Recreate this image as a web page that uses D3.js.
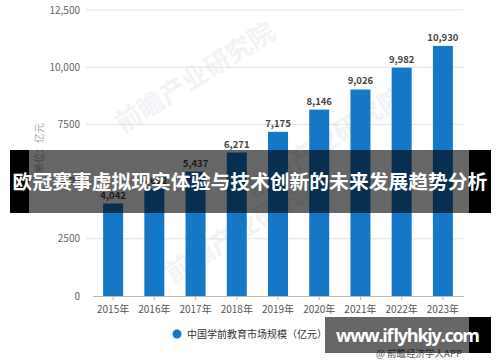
<!DOCTYPE html>
<html>
<head>
<meta charset="utf-8">
<script src="https://cdn.jsdelivr.net/npm/d3@7"></script>
<style>
  body { margin: 0; background: #fff; }
  svg { display: block; font-family: "Noto Sans CJK SC", "Noto Sans", sans-serif; }
</style>
</head>
<body>
<div id="chart"></div>
<script>
const w = 500
const h = 362

// Data
const years = ["2015年", "2016年", "2017年", "2018年", "2019年", "2020年", "2021年", "2022年", "2023年"]
const values = [4042, 4692, 5437, 6271, 7175, 8146, 9026, 9982, 10930]
const valueLabels = ["4,042", "4,692", "5,437", "6,271", "7,175", "8,146", "9,026", "9,982", "10,930"]
const yTicks = [0, 2500, 5000, 7500, 10000, 12500]
const yTickLabels = ["0", "2500", "5000", "7500", "10,000", "12,500"]
const seriesName = "中国学前教育市场规模（亿元）"
const unitLabel = "单位：亿元"
const bannerText = "欧冠赛事虚拟现实体验与技术创新的未来发展趋势分析"
const siteText = "www.iflyhkjy.com"
const sourceText = "@ 前瞻经济学人APP"

const svg = d3.select("#chart")
  .append("svg")
    .attr("width", w)
    .attr("height", h)

// Scales
const x = d3.scaleBand()
  .domain(years)
  .range([92.5, 463.5])
  .paddingInner(0.515)
  .paddingOuter(0.2575)

const y = d3.scaleLinear()
  .domain([0, 12500])
  .range([296, 10])

// faint watermark
const wm = svg.append("g").attr("fill", "#f1f3f7").attr("font-weight", "bold")
;[[200, 85], [330, 150], [250, 235]].forEach(([cx, cy]) => {
  wm.append("text")
    .attr("transform", `translate(${cx},${cy}) rotate(-32)`)
    .attr("text-anchor", "middle")
    .attr("font-size", 26)
    .text("前瞻产业研究院")
})

// Grid lines + y labels
svg.append("g")
  .selectAll("line")
  .data(yTicks.slice(1))
  .join("line")
    .attr("x1", 86)
    .attr("x2", 463)
    .attr("y1", d => y(d))
    .attr("y2", d => y(d))
    .attr("stroke", "#e3e3e3")
    .attr("stroke-width", 1)

svg.append("g")
  .selectAll("text")
  .data(yTicks)
  .join("text")
    .attr("x", 80)
    .attr("y", d => y(d) + 3.5)
    .attr("text-anchor", "end")
    .attr("font-size", 10)
    .attr("fill", "#666")
    .text((d, i) => yTickLabels[i])

// unit label
svg.append("text")
  .attr("transform", "translate(43,148) rotate(-90)")
  .attr("text-anchor", "middle")
  .attr("font-size", 10)
  .attr("fill", "#aaa")
  .text(unitLabel)

// Bars
svg.append("g")
  .selectAll("rect")
  .data(values)
  .join("rect")
    .attr("x", (d, i) => x(years[i]))
    .attr("y", d => y(d))
    .attr("width", x.bandwidth())
    .attr("height", d => y(0) - y(d))
    .attr("fill", "#1677c6")

// Value labels
svg.append("g")
  .selectAll("text")
  .data(values)
  .join("text")
    .attr("x", (d, i) => x(years[i]) + x.bandwidth() / 2)
    .attr("y", d => y(d) - 5)
    .attr("text-anchor", "middle")
    .attr("font-size", 9.5)
    .attr("font-weight", "bold")
    .attr("fill", "#444")
    .text((d, i) => valueLabels[i])

// X axis
const xAxis = svg.append("g")
  .attr("transform", `translate(0,${y(0)})`)
  .call(d3.axisBottom(x).tickSize(4).tickSizeOuter(0))
xAxis.select(".domain").attr("stroke", "#bbb")
xAxis.selectAll(".tick line").attr("stroke", "#bbb")
xAxis.selectAll(".tick text")
  .attr("font-size", 10)
  .attr("fill", "#555")
  .attr("dy", "0.95em")
  .attr("font-family", "Noto Sans CJK SC, sans-serif")

// Legend
svg.append("circle")
  .attr("cx", 177)
  .attr("cy", 334)
  .attr("r", 4.5)
  .attr("fill", "#1677c6")
svg.append("text")
  .attr("x", 187)
  .attr("y", 338)
  .attr("font-size", 10)
  .attr("fill", "#333")
  .text(seriesName)

// source
svg.append("text")
  .attr("x", 376)
  .attr("y", 357)
  .attr("font-size", 9.5)
  .attr("fill", "#555")
  .text(sourceText)

// Banner overlay
svg.append("rect")
  .attr("x", 29).attr("y", 150).attr("width", 440).attr("height", 63)
  .attr("fill", "rgba(0,0,0,0.6)")
svg.append("rect")
  .attr("x", 10).attr("y", 150).attr("width", 19).attr("height", 63)
  .attr("fill", "#000")
svg.append("rect")
  .attr("x", 469).attr("y", 150).attr("width", 22).attr("height", 63)
  .attr("fill", "#000")
svg.append("text")
  .attr("x", 250)
  .attr("y", 189)
  .attr("text-anchor", "middle")
  .attr("font-size", 19.8)
  .attr("font-weight", "bold")
  .attr("fill", "#fff")
  .text(bannerText)

// Site watermark box
svg.append("rect")
  .attr("x", 325).attr("y", 317).attr("width", 144).attr("height", 36)
  .attr("fill", "rgba(0,0,0,0.6)")
svg.append("rect")
  .attr("x", 469).attr("y", 317).attr("width", 22).attr("height", 36)
  .attr("fill", "#000")
svg.append("text")
  .attr("x", 336)
  .attr("y", 342)
  .attr("font-size", 18)
  .attr("font-weight", "bold")
  .attr("font-family", "Open Sans, sans-serif")
  .attr("fill", "#fff")
  .attr("textLength", 144)
  .text(siteText)
</script>
</body>
</html>
